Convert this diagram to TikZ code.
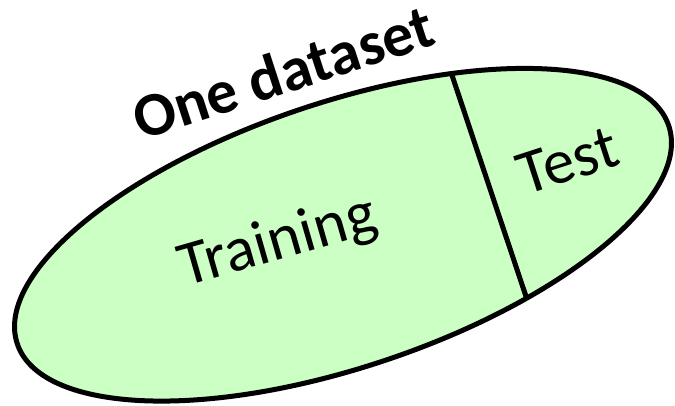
\documentclass[tikz,border=0pt]{standalone}
\usepackage{fontspec}
\setmainfont{Carlito}
\definecolor{setgreen}{RGB}{204,255,196}
\begin{document}
\begin{tikzpicture}[x=1pt,y=1pt,
  outline/.style={line width=5pt, draw=black},
  lbl/.style={font=\fontsize{63}{63}\selectfont, inner sep=0pt},
  titlelbl/.style={font=\fontsize{62}{62}\selectfont\bfseries, inner sep=0pt}]
\useasboundingbox (0,0) rectangle (675,406);
\begin{scope}[shift={(343,171.25)}, rotate=18.5]
  \path[fill=setgreen] (0,0) ellipse [x radius=343.5, y radius=132.5];
  \coordinate (dtop) at (154,118.4);
  \coordinate (dbot) at (154,-118.4);
  \draw[outline] (dtop) -- (dbot);
  \draw[outline] (0,0) ellipse [x radius=343.5, y radius=132.5];
\end{scope}
\node[lbl, rotate=16] (train) at (278,163) {Training};
\node[lbl, rotate=18] (test) at (568,245) {Test};
\node[titlelbl, rotate=18] (title) at (283,334) {One dataset};
\end{tikzpicture}
\end{document}
